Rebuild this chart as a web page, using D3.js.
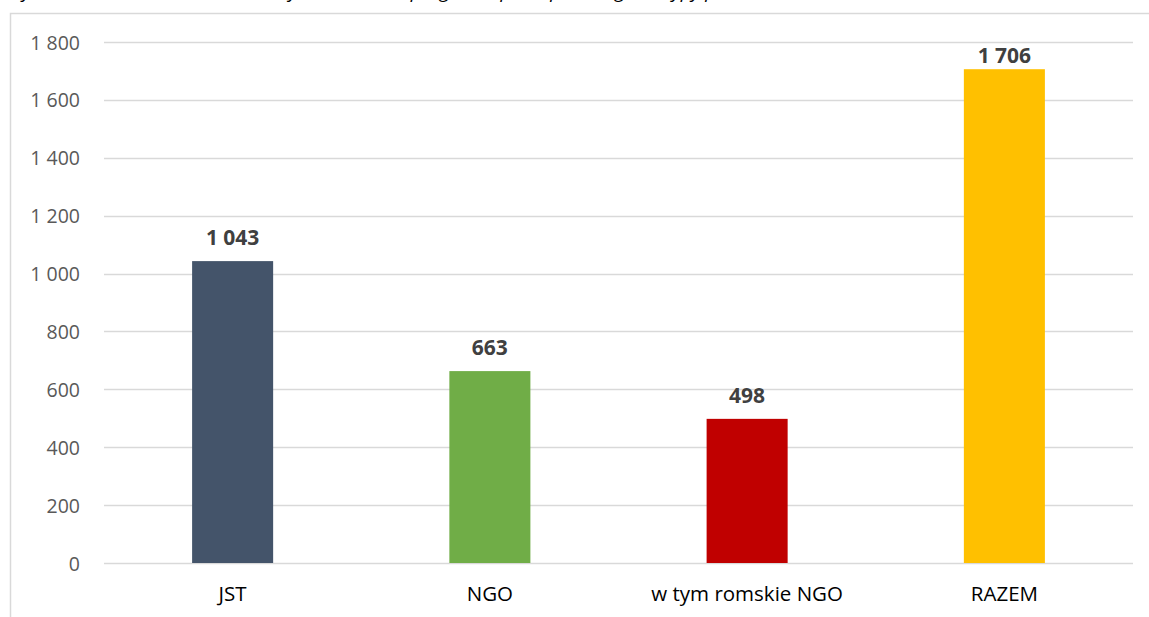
<!DOCTYPE html>
<html><head><meta charset="utf-8">
<script src="https://cdn.jsdelivr.net/npm/d3@7"></script>
<style>body{margin:0;background:#fff}svg{display:block}</style>
</head><body>
<svg id="c" width="1149" height="617"></svg>
<script>
const categories = ["JST", "NGO", "w tym romskie NGO", "RAZEM"];
const values = [1043, 663, 498, 1706];
const colors = ["#44546A", "#70AD47", "#C00000", "#FFC000"];
const yTicks = [0, 200, 400, 600, 800, 1000, 1200, 1400, 1600, 1800];
const caption = "Wykres 3. Liczba wniosków złożonych w ramach programu przez poszczególne typy podmiotów w latach 2014–2020";

const svg = d3.select("#c");
const font = "'Open Sans', 'Noto Sans', sans-serif";
const fmt = v => d3.format(",")(v).replace(/,/g, " ");

svg.append("text").attr("x", 6).attr("y", -2)
  .attr("font-family", font).attr("font-style", "italic").attr("font-size", 19).attr("fill", "#000")
  .text(caption);

// frame
svg.append("path").attr("d", "M10.5,617 V13.5 H1149").attr("fill", "none").attr("stroke", "#d9d9d9").attr("stroke-width", 1.5);

const x = d3.scaleBand().domain(categories).range([104, 1133]).paddingInner(0.685).paddingOuter(0.3425);
const y = d3.scaleLinear().domain([0, 1800]).range([563, 42]);

const grid = svg.append("g");
grid.selectAll("line").data(yTicks).join("line")
  .attr("x1", 104).attr("x2", 1133)
  .attr("y1", d => Math.round(y(d)) + 0.5).attr("y2", d => Math.round(y(d)) + 0.5)
  .attr("stroke", "#d9d9d9").attr("stroke-width", 1.3);

const yAxis = svg.append("g").attr("transform", "translate(80,0)")
  .call(d3.axisLeft(y).tickValues(yTicks).tickSize(0).tickPadding(0).tickFormat(fmt));
yAxis.select(".domain").remove();
yAxis.selectAll("text").attr("font-family", font).attr("font-size", 19.5).attr("fill", "#595959").attr("dy", "0.36em");

const xAxis = svg.append("g").attr("transform", "translate(0,563)")
  .call(d3.axisBottom(x).tickSize(0).tickPadding(0).tickFormat(d => d));
xAxis.select(".domain").remove();
xAxis.selectAll("text").attr("font-family", font).attr("font-size", 20.5).attr("fill", "#000").attr("dy", null).attr("y", 38);

svg.append("g").selectAll("rect").data(values).join("rect")
  .attr("x", (d, i) => x(categories[i])).attr("width", x.bandwidth())
  .attr("y", d => y(d)).attr("height", d => y(0) - y(d))
  .attr("fill", (d, i) => colors[i]);

// labels sit above bars, but are kept inside the plot area
svg.append("g").selectAll("text").data(values).join("text")
  .attr("x", (d, i) => x(categories[i]) + x.bandwidth() / 2)
  .attr("y", d => Math.max(y(d) - 16, 63))
  .attr("text-anchor", "middle")
  .attr("font-family", font).attr("font-weight", "bold").attr("font-size", 21).attr("fill", "#404040")
  .text(fmt);
</script>
</body></html>
